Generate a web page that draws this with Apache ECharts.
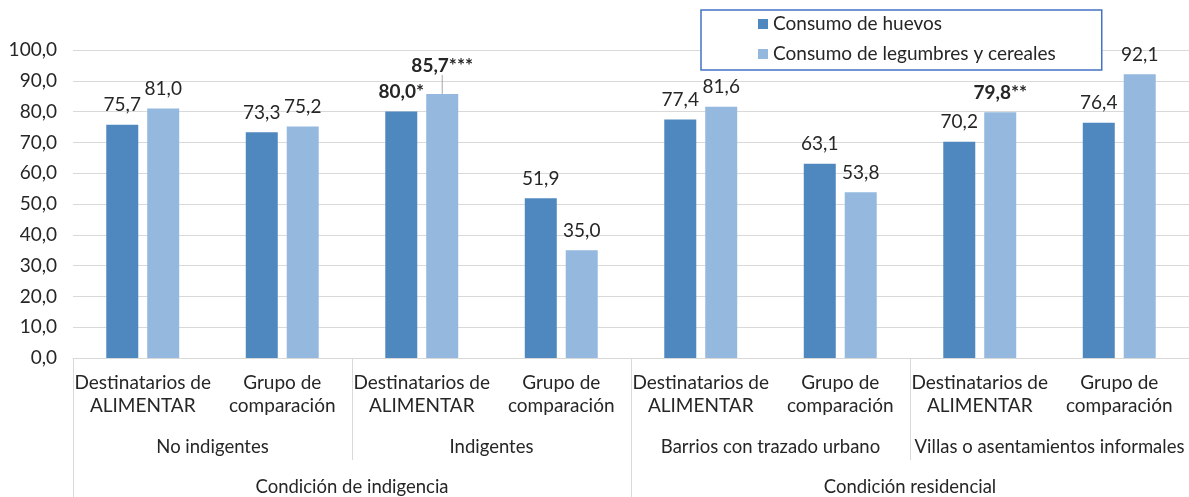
<!DOCTYPE html>
<html>
<head>
<meta charset="utf-8">
<script src="https://cdn.jsdelivr.net/npm/echarts@6/dist/echarts.min.js"></script>
<style>
html,body{margin:0;padding:0;background:#fff;}
#c{width:1189px;height:497px;}
</style>
</head>
<body>
<div id="c"></div>
<script>
const categories = ['Destinatarios de\nALIMENTAR','Grupo de\ncomparación','Destinatarios de\nALIMENTAR','Grupo de\ncomparación','Destinatarios de\nALIMENTAR','Grupo de\ncomparación','Destinatarios de\nALIMENTAR','Grupo de\ncomparación'];
const subgroups = ['No indigentes','Indigentes','Barrios con trazado urbano','Villas o asentamientos informales'];
const groups = ['Condición de indigencia','Condición residencial'];
const huevos = [75.7, 73.3, 80.0, 51.9, 77.4, 63.1, 70.2, 76.4];
const legumbres = [81.0, 75.2, 85.7, 35.0, 81.6, 53.8, 79.8, 92.1];
const huevosMarks = ['', '', '*', '', '', '', '', ''];
const legumbresMarks = ['', '', '***', '', '', '', '**', ''];
const seriesNames = ['Consumo de huevos','Consumo de legumbres y cereales'];
const yTicks = [0,10,20,30,40,50,60,70,80,90,100];

const FONT = 'Lato';
const TXT = '#262626';
const GRID = '#D9D9D9';
const fmt = v => v.toFixed(1).replace('.', ',');

function buildData(vals, marks, leader) {
  return vals.map((v, i) => {
    const item = { value: v, mark: marks[i] };
    if (marks[i]) {
      item.label = { fontWeight: 'bold' };
      if (leader && marks[i] === '***') {
        item.labelLine = { show: true, lineStyle: { color: '#A6A6A6', width: 1 } };
      }
    }
    return item;
  });
}

const labelCfg = {
  show: true, position: 'top', distance: 10,
  fontFamily: FONT, fontSize: 19, color: TXT,
  formatter: p => fmt(p.value) + (p.data.mark || '')
};

const chart = echarts.init(document.getElementById('c'), null, {renderer: 'canvas'});
chart.setOption({
  animation: false,
  backgroundColor: '#fff',
  textStyle: { fontFamily: FONT },
  grid: { left: 73, right: -3, top: 50, bottom: 136, containLabel: false },
  legend: {
    data: seriesNames,
    orient: 'vertical',
    left: 701, top: 10,
    padding: [4, 46, 6, 57],
    itemGap: 10,
    itemWidth: 10, itemHeight: 10,
    icon: 'rect',
    backgroundColor: '#fff',
    borderColor: '#4472C4', borderWidth: 1.5,
    textStyle: { fontFamily: FONT, fontSize: 19, color: TXT, lineHeight: 20 }
  },
  xAxis: [
    {
      type: 'category', data: categories, position: 'bottom',
      axisLine: { show: true, onZero: false, lineStyle: { color: GRID } },
      axisTick: { show: false },
      axisLabel: { interval: 0, margin: 13, fontFamily: FONT, fontSize: 19, lineHeight: 23, color: TXT }
    },
    {
      type: 'category', data: subgroups, position: 'bottom', gridIndex: 0,
      axisLine: { show: false, onZero: false },
      axisTick: { show: true, interval: 0, length: 102, lineStyle: { color: GRID } },
      axisLabel: { interval: 0, margin: 80, fontFamily: FONT, fontSize: 18.5, color: TXT }
    },
    {
      type: 'category', data: groups, position: 'bottom', gridIndex: 0,
      axisLine: { show: false, onZero: false },
      axisTick: { show: true, interval: 0, length: 140, lineStyle: { color: GRID } },
      axisLabel: { interval: 0, margin: 120, fontFamily: FONT, fontSize: 18.5, color: TXT }
    }
  ],
  yAxis: {
    type: 'value', min: 0, max: 100, interval: 10,
    axisLine: { show: false }, axisTick: { show: false },
    splitLine: { lineStyle: { color: GRID, width: 1 } },
    axisLabel: { margin: 16, fontFamily: FONT, fontSize: 19, color: TXT, formatter: v => fmt(v) }
  },
  series: [
    {
      name: seriesNames[0], type: 'bar', xAxisIndex: 0,
      barWidth: 32, barGap: '28%',
      itemStyle: { color: '#4F88BF' },
      label: labelCfg,
      data: buildData(huevos, huevosMarks, false)
    },
    {
      name: seriesNames[1], type: 'bar', xAxisIndex: 0,
      barWidth: 32, barGap: '28%',
      itemStyle: { color: '#95B8DF' },
      label: labelCfg,
      labelLayout: p => (p.dataIndex === 2 ? { dy: -9 } : {}),
      data: buildData(legumbres, legumbresMarks, true)
    }
  ]
});
</script>
</body>
</html>
